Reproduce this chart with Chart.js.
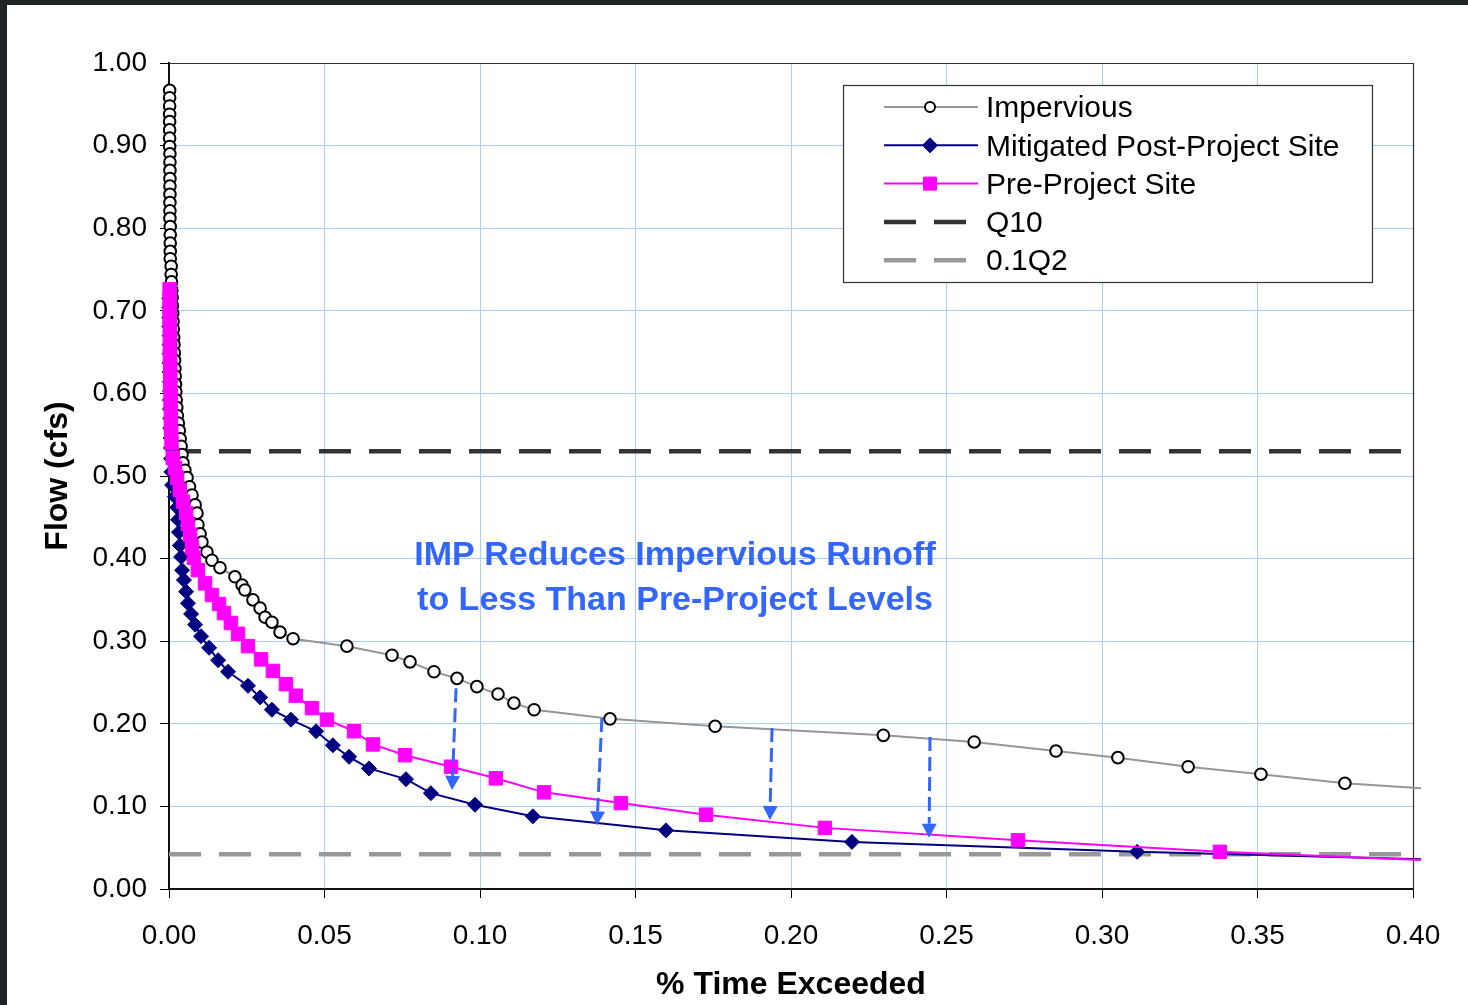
<!DOCTYPE html>
<html lang="en">
<head>
<meta charset="UTF-8">
<title>Flow Duration - Impervious vs Pre-Project</title>
<script src="https://cdn.jsdelivr.net/npm/chart.js"></script>
<style>
  html, body { margin: 0; padding: 0; background: #1f2527; }
  body { width: 1468px; height: 1005px; overflow: hidden; position: relative; }
  #wrap { position: absolute; left: 7px; top: 5px; width: 1461px; height: 1000px; background: #fff; }
</style>
</head>
<body>
<div id="wrap"><canvas id="chart" width="1461" height="1000"></canvas></div>
<script>
// ---- data ----
const xTicks = [0, 0.05, 0.10, 0.15, 0.20, 0.25, 0.30, 0.35, 0.40];
const yTicks = [0, 0.1, 0.2, 0.3, 0.4, 0.5, 0.6, 0.7, 0.8, 0.9, 1.0];

const impExceed = [0.0002,0.0002,0.0002,0.0002,0.0002,0.0002,0.0002,0.0002,0.0003,0.0003,0.0003,0.0003,0.0003,0.0003,0.0003,0.0003,0.0003,0.0004,0.0004,0.0004,0.0004,0.0004,
  0.0007,0.0007,0.0008,0.0009,0.0010,0.0011,0.0012,0.0013,0.0014,0.0015,0.0016,0.0017,0.0018,0.0019,0.0020,0.0021,0.0022,0.0023,0.0025,0.0027,0.0030,0.0033,0.0036,0.0039,0.0042,0.0045,
  0.0051,0.0058,0.0066,0.0074,0.0084,0.0090,0.0093,0.0100,0.0106,0.0122,0.0138,0.0164,0.0212,0.0235,0.0244,0.0270,0.0293,0.0309,0.0331,0.0357,0.0399,
  0.0572,0.0717,0.0775,0.0852,0.0926,0.0990,0.1058,0.1109,0.1174,0.1418,0.1756,0.2297,0.2589,0.2852,0.3051,0.3277,0.3511,0.3781,0.4026];
const impFlow = [0.967,0.958,0.948,0.938,0.929,0.919,0.909,0.899,0.890,0.880,0.870,0.860,0.851,0.841,0.831,0.821,0.812,0.802,0.792,0.782,0.772,0.763,
  0.754,0.744,0.735,0.725,0.716,0.706,0.697,0.687,0.678,0.668,0.659,0.649,0.640,0.630,0.621,0.611,0.602,0.592,0.583,0.573,0.564,0.555,0.545,0.536,0.526,0.516,
  0.507,0.498,0.487,0.477,0.465,0.455,0.441,0.430,0.420,0.408,0.398,0.389,0.378,0.368,0.362,0.350,0.340,0.329,0.323,0.311,0.303,
  0.294,0.283,0.275,0.263,0.255,0.245,0.236,0.225,0.217,0.206,0.197,0.186,0.178,0.167,0.159,0.148,0.139,0.128,0.122];

const mitExceed = [0.0001,0.0001,0.0001,0.0001,0.0002,0.0002,0.0002,0.0002,0.0002,0.0003,0.0003,0.0003,0.0003,0.0004,0.0004,0.0005,0.0006,0.0007,0.0008,
  0.0010,0.0019,0.0026,0.0029,0.0032,0.0035,0.0039,0.0042,0.0048,0.0055,0.0061,0.0071,0.0084,0.0103,0.0129,0.0158,0.0190,0.0254,0.0293,0.0331,0.0392,
  0.0473,0.0527,0.0579,0.0643,0.0762,0.0842,0.0984,0.1170,0.1598,0.2196,0.3113,0.4026];
const mitFlow = [0.715,0.704,0.692,0.681,0.670,0.659,0.648,0.637,0.626,0.614,0.603,0.592,0.581,0.570,0.558,0.546,0.534,0.521,0.505,
  0.489,0.475,0.462,0.447,0.432,0.416,0.402,0.386,0.374,0.360,0.346,0.333,0.320,0.306,0.292,0.277,0.263,0.246,0.232,0.217,0.205,
  0.191,0.174,0.160,0.146,0.133,0.116,0.102,0.088,0.071,0.057,0.045,0.036];

const preExceed = [0.0002,0.0002,0.0002,0.0002,0.0003,0.0003,0.0003,0.0003,0.0004,0.0004,0.0004,0.0005,0.0005,0.0006,0.0006,0.0007,0.0008,
  0.0012,0.0019,0.0026,0.0035,0.0045,0.0055,0.0061,0.0068,0.0074,0.0080,0.0093,0.0116,0.0138,0.0161,0.0177,0.0199,0.0222,0.0254,0.0296,0.0334,
  0.0376,0.0408,0.0460,0.0508,0.0595,0.0656,0.0759,0.0907,0.1051,0.1206,0.1453,0.1727,0.2109,0.2730,0.3379,0.4026];
const preFlow = [0.726,0.714,0.703,0.691,0.680,0.668,0.656,0.645,0.633,0.621,0.610,0.598,0.587,0.575,0.563,0.552,0.540,
  0.522,0.510,0.498,0.483,0.469,0.455,0.442,0.429,0.414,0.401,0.386,0.370,0.356,0.345,0.334,0.322,0.309,0.294,0.278,0.264,
  0.248,0.234,0.219,0.205,0.191,0.175,0.162,0.148,0.134,0.117,0.104,0.090,0.074,0.059,0.045,0.035];

const q10Flow = 0.530;
const tenthQ2Flow = 0.042;

// annotation arrows [exceed, flow]
const arrowFrom = [[0.0923, 0.243], [0.1392, 0.207], [0.1939, 0.195], [0.2447, 0.184]];
const arrowTo   = [[0.0910, 0.120], [0.1376, 0.077], [0.1932, 0.0835], [0.2444, 0.062]];
const noteLines = ['IMP Reduces Impervious Runoff', 'to Less Than Pre-Project Levels'];
const noteAt = [0.1627, 0.4032];

const FONT = "'Liberation Sans', Arial, sans-serif";

function toPts(xs, ys) { return xs.map((x, i) => ({ x: x, y: ys[i] })); }
// the last point of each curve only carries the line out to the edge
const noEndMarker = r => ctx => ctx.dataIndex === ctx.dataset.data.length - 1 ? 0 : r;
const CLIP = { left: 12, top: 0, right: 12, bottom: 0 };

function drawMarker(ctx, ds, x, y, r) {
  ctx.save();
  ctx.fillStyle = ds.pointBackgroundColor;
  ctx.strokeStyle = ds.pointBorderColor;
  ctx.lineWidth = ds.pointBorderWidth;
  ctx.beginPath();
  if (ds.pointStyle === 'circle') ctx.arc(x, y, r, 0, Math.PI * 2);
  else if (ds.pointStyle === 'rectRot') {
    ctx.moveTo(x, y - r); ctx.lineTo(x + r, y); ctx.lineTo(x, y + r); ctx.lineTo(x - r, y); ctx.closePath();
  } else ctx.rect(x - r, y - r, 2 * r, 2 * r);
  ctx.fill();
  ctx.stroke();
  ctx.restore();
}

const extras = {
  id: 'extras',
  beforeDatasetsDraw(chart) {
    const { ctx, chartArea: a } = chart;
    ctx.save();
    ctx.strokeStyle = '#333';
    ctx.lineWidth = 1.2;
    ctx.beginPath();
    ctx.moveTo(a.left, a.top + 0.5);
    ctx.lineTo(a.right + 0.5, a.top + 0.5);
    ctx.lineTo(a.right + 0.5, a.bottom);
    ctx.stroke();
    ctx.restore();
  },
  afterDraw(chart) {
    const { ctx, chartArea: a, scales: { x, y } } = chart;

    // arrows
    ctx.save();
    ctx.strokeStyle = '#3366FF';
    ctx.fillStyle = '#3366FF';
    ctx.lineWidth = 3;
    arrowFrom.forEach((p, i) => {
      const x0 = x.getPixelForValue(p[0]), y0 = y.getPixelForValue(p[1]);
      const x1 = x.getPixelForValue(arrowTo[i][0]), y1 = y.getPixelForValue(arrowTo[i][1]);
      const ang = Math.atan2(y1 - y0, x1 - x0);
      const hl = 14, hw = 7.5;
      const bx = x1 - Math.cos(ang) * hl, by = y1 - Math.sin(ang) * hl;
      ctx.setLineDash([14, 6]);
      ctx.beginPath();
      ctx.moveTo(x0, y0);
      ctx.lineTo(bx, by);
      ctx.stroke();
      ctx.setLineDash([]);
      ctx.beginPath();
      ctx.moveTo(x1, y1);
      ctx.lineTo(bx + Math.sin(ang) * hw, by - Math.cos(ang) * hw);
      ctx.lineTo(bx - Math.sin(ang) * hw, by + Math.cos(ang) * hw);
      ctx.closePath();
      ctx.fill();
    });
    ctx.restore();

    // note text
    ctx.save();
    ctx.fillStyle = '#3366FF';
    ctx.font = 'bold 34px ' + FONT;
    ctx.textAlign = 'center';
    ctx.textBaseline = 'middle';
    const nx = x.getPixelForValue(noteAt[0]), ny = y.getPixelForValue(noteAt[1]);
    noteLines.forEach((t, i) => ctx.fillText(t, nx, ny + i * 45));
    ctx.restore();

    // legend box
    const bw = 529, bh = 197;
    const bx = a.right - 41 - bw, by = a.top + 22;
    ctx.save();
    ctx.fillStyle = '#fff';
    ctx.fillRect(bx, by, bw, bh);
    ctx.strokeStyle = '#333';
    ctx.lineWidth = 1.2;
    ctx.strokeRect(bx + 0.5, by + 0.5, bw, bh);
    ctx.font = '30px ' + FONT;
    ctx.textBaseline = 'middle';
    ctx.fillStyle = '#000';
    chart.data.datasets.forEach((ds, i) => {
      const ry = by + 22 + i * 38.3;
      ctx.save();
      ctx.strokeStyle = ds.borderColor;
      ctx.lineWidth = ds.borderWidth;
      if (ds.borderDash) { ctx.setLineDash(ds.borderDash); ctx.lineWidth = 4.5; }
      ctx.beginPath();
      ctx.moveTo(bx + 41, ry);
      ctx.lineTo(bx + (ds.borderDash ? 127 : 135), ry);
      ctx.stroke();
      ctx.restore();
      if (ds.legendRadius) drawMarker(ctx, ds, bx + 87, ry, ds.legendRadius);
      ctx.fillText(ds.label, bx + 143, ry + 2);
    });
    ctx.restore();
  }
};

const fixedTicks = list => scale => { scale.ticks = list.map(v => ({ value: v })); };

new Chart(document.getElementById('chart'), {
  type: 'scatter',
  data: {
    datasets: [
      {
        label: 'Impervious', data: toPts(impExceed, impFlow), showLine: true,
        borderColor: '#969696', borderWidth: 2, pointStyle: 'circle',
        pointRadius: noEndMarker(5.8), pointBackgroundColor: '#fff', pointBorderColor: '#000', pointBorderWidth: 2,
        legendRadius: 5, order: 5, clip: CLIP
      },
      {
        label: 'Mitigated Post-Project Site', data: toPts(mitExceed, mitFlow), showLine: true,
        borderColor: '#000080', borderWidth: 2, pointStyle: 'rectRot',
        pointRadius: noEndMarker(7.5), pointBackgroundColor: '#000080', pointBorderColor: '#000080', pointBorderWidth: 1,
        legendRadius: 7.5, order: 4, clip: CLIP
      },
      {
        label: 'Pre-Project Site', data: toPts(preExceed, preFlow), showLine: true,
        borderColor: '#FF00FF', borderWidth: 2, pointStyle: 'rect',
        pointRadius: noEndMarker(9.5), pointBackgroundColor: '#FF00FF', pointBorderColor: '#FF00FF', pointBorderWidth: 1,
        legendRadius: 6.5, order: 3, clip: CLIP
      },
      {
        label: 'Q10', data: [{ x: 0, y: q10Flow }, { x: 0.4, y: q10Flow }], showLine: true,
        borderColor: '#333333', borderWidth: 4.5, borderDash: [32, 18], pointRadius: 0, order: 10
      },
      {
        label: '0.1Q2', data: [{ x: 0, y: tenthQ2Flow }, { x: 0.4, y: tenthQ2Flow }], showLine: true,
        borderColor: '#999999', borderWidth: 4.5, borderDash: [32, 18], pointRadius: 0, order: 10
      }
    ]
  },
  options: {
    responsive: false,
    devicePixelRatio: 1,
    animation: false,
    layout: { padding: { left: 0, top: 58, right: 55, bottom: 0 } },
    plugins: { legend: { display: false }, tooltip: { enabled: false } },
    elements: { line: { tension: 0 } },
    scales: {
      x: {
        type: 'linear', min: 0, max: 0.4,
        afterBuildTicks: fixedTicks(xTicks),
        afterFit: s => { s.height = 116; },
        grid: { color: '#a9d1f7', lineWidth: 1, tickLength: 9, tickColor: '#000' },
        border: { color: '#111', width: 2 },
        ticks: { color: '#000', font: { family: FONT, size: 28 }, padding: 21, callback: v => v.toFixed(2) },
        title: { display: true, text: '% Time Exceeded', color: '#000', font: { family: FONT, size: 32, weight: 'bold' }, padding: { top: 1, bottom: 1 } }
      },
      y: {
        type: 'linear', min: 0, max: 1,
        afterBuildTicks: fixedTicks(yTicks),
        afterFit: s => { s.width = 162; },
        grid: { color: '#a9d1f7', lineWidth: 1, tickLength: 9, tickColor: '#000' },
        border: { color: '#111', width: 2 },
        ticks: { color: '#000', font: { family: FONT, size: 28 }, padding: 13, callback: v => v.toFixed(2) },
        title: { display: true, text: 'Flow (cfs)', color: '#000', font: { family: FONT, size: 32, weight: 'bold' }, padding: { top: 32, bottom: 32 } }
      }
    }
  },
  plugins: [extras]
});
</script>
</body>
</html>
